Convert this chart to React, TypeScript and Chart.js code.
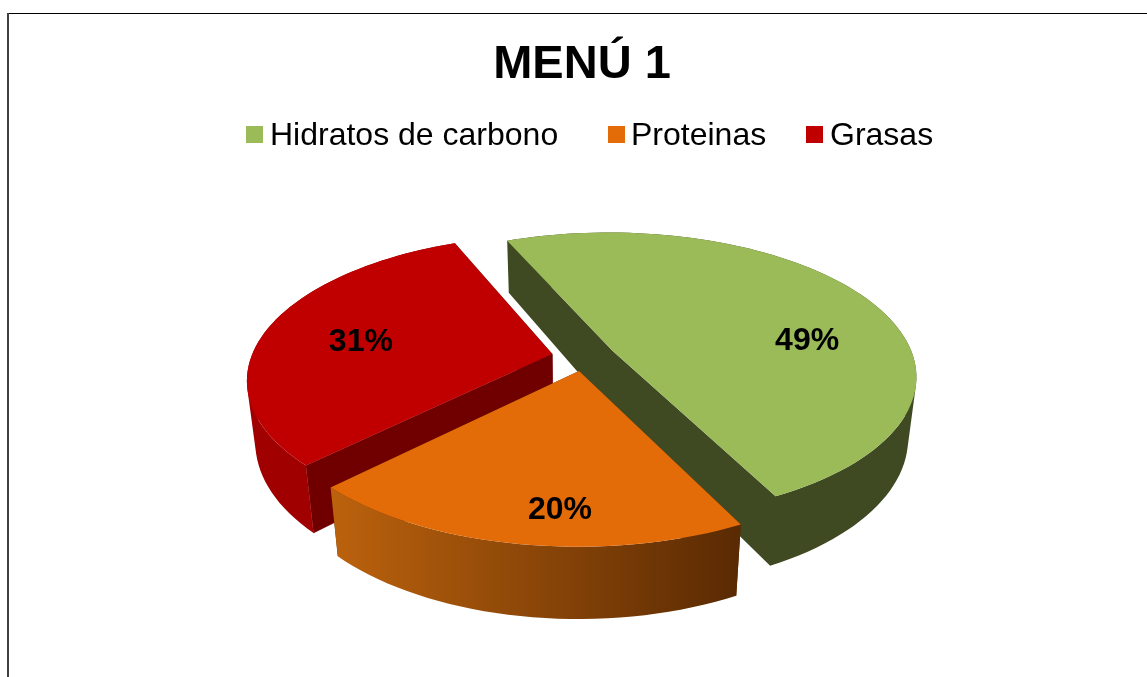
import React, { useEffect, useRef } from "react";
import { Chart, registerables } from "chart.js";

Chart.register(...registerables);

const categories = ["Hidratos de carbono", "Proteinas", "Grasas"];
const values = [49, 20, 31];
const topColors = ["#9BBB59", "#E36C09", "#C00000"];
const titleText = "MENÚ 1";

// perspective of the tilted pie plane (canvas pixels)
const X0 = 577, Y0 = 344, A = 301, B = 140.4, P = 0.17, Q = 0.025, C = 62, CV = 0.05;
const explode = [0.105, 0.1, 0.108];
const START_DEG = 336.9;
const labelRadius = [0.665, 0.825, 0.655];
const labelAlong = [0.605, 0.42, 0.47];
const drawOrder = [2, 0, 1];
const legendX = [239, 601, 799];
const legendTextGap = [24, 23, 24];

type Pt = [number, number];

const project = (u: number, v: number, z: number): Pt => {
  const d = 1 - P * v + Q * z;
  return [X0 + (A * u) / d, Y0 + (B * v + C * (1 + CV * v) * z) / d];
};

const pie3d = {
  id: "pie3d",
  beforeDraw(chart: any) {
    const { ctx, width, height } = chart;
    ctx.save();
    ctx.fillStyle = "#ffffff";
    ctx.fillRect(0, 0, width, height);
    ctx.fillStyle = "#000000";
    ctx.fillRect(0, 0, width, 1);
    ctx.fillStyle = "#404040";
    ctx.fillRect(0, 0, 2, height);
    ctx.restore();
  },
  beforeDatasetDraw(chart: any) {
    const { ctx } = chart;
    const arcs = chart.getDatasetMeta(0).data;
    ctx.save();
    for (const i of drawOrder) {
      const arc = arcs[i];
      const { startAngle: a0, endAngle: a1 } = arc;
      const mid = (a0 + a1) / 2;
      const cu = explode[i] * Math.cos(mid);
      const cv = explode[i] * Math.sin(mid);
      const steps = Math.ceil(((a1 - a0) * 180) / Math.PI / 2);
      const rim: Pt[] = [];
      for (let s = 0; s <= steps; s++) {
        const a = a0 + ((a1 - a0) * s) / steps;
        rim.push([cu + Math.cos(a), cv + Math.sin(a)]);
      }
      const apex: Pt = [cu, cv];
      // one path of equally wound quads, so that a wall is filled without seams
      const wall = (edges: [Pt, Pt][], style: any, bleed: boolean) => {
        ctx.beginPath();
        edges.forEach(([p, q]) => {
          const pts = [project(p[0], p[1], 0), project(q[0], q[1], 0), project(q[0], q[1], 1), project(p[0], p[1], 1)];
          let area = 0;
          pts.forEach((pt, k) => {
            const n = pts[(k + 1) % 4];
            area += pt[0] * n[1] - n[0] * pt[1];
          });
          if (area < 0) pts.reverse();
          pts.forEach((pt, k) => (k ? ctx.lineTo(pt[0], pt[1]) : ctx.moveTo(pt[0], pt[1])));
          ctx.closePath();
        });
        ctx.fillStyle = style;
        ctx.fill("nonzero");
        if (bleed) {
          ctx.strokeStyle = style;
          ctx.lineWidth = 0.5;
          ctx.stroke();
        }
      };
      let rimStyle: any = "#3F4A23";
      let innerStyle: any = "#3F4A23";
      if (i === 1) {
        const l = project(rim[steps][0], rim[steps][1], 0)[0];
        const r = project(rim[0][0], rim[0][1], 0)[0];
        const g = ctx.createLinearGradient(l, 0, r, 0);
        g.addColorStop(0, "#BC620D");
        g.addColorStop(1, "#592A03");
        rimStyle = g;
        innerStyle = "#592A03";
      } else if (i === 2) {
        rimStyle = "#A00000";
        innerStyle = "#700000";
      }
      const rimEdges: [Pt, Pt][] = [];
      for (let s = 0; s < steps; s++) rimEdges.push([rim[s], rim[s + 1]]);
      const innerEdges: [Pt, Pt][] = [[apex, rim[0]], [rim[steps], apex]];
      if (rimStyle === innerStyle) {
        wall([...innerEdges, ...rimEdges], rimStyle, false);
      } else {
        wall(innerEdges, innerStyle, i === 2);
        wall(rimEdges, rimStyle, false);
      }

      ctx.beginPath();
      const ap = project(apex[0], apex[1], 0);
      ctx.moveTo(ap[0], ap[1]);
      rim.forEach((r) => {
        const pt = project(r[0], r[1], 0);
        ctx.lineTo(pt[0], pt[1]);
      });
      ctx.closePath();
      ctx.fillStyle = arc.options.backgroundColor;
      ctx.fill();
    }
    ctx.fillStyle = "#000000";
    ctx.font = "bold 32px 'Liberation Sans'";
    ctx.textAlign = "center";
    ctx.textBaseline = "middle";
    arcs.forEach((arc: any, i: number) => {
      const { startAngle: a0, endAngle: a1 } = arc;
      const mid = (a0 + a1) / 2;
      const a = a0 + (a1 - a0) * labelAlong[i];
      const pt = project(
        explode[i] * Math.cos(mid) + labelRadius[i] * Math.cos(a),
        explode[i] * Math.sin(mid) + labelRadius[i] * Math.sin(a),
        0
      );
      ctx.fillText(values[i] + "%", pt[0], pt[1]);
    });
    ctx.restore();
    return false;
  },
  afterDraw(chart: any) {
    const { ctx } = chart;
    ctx.save();
    ctx.font = "32px 'Liberation Sans'";
    ctx.textBaseline = "middle";
    ctx.textAlign = "left";
    categories.forEach((name, i) => {
      ctx.fillStyle = topColors[i];
      ctx.fillRect(legendX[i], 113, 17, 17);
      ctx.fillStyle = "#000000";
      ctx.fillText(name, legendX[i] + legendTextGap[i], 123);
    });
    ctx.restore();
  },
};

export default function App() {
  const ref = useRef<HTMLCanvasElement>(null);
  useEffect(() => {
    const chart = new Chart(ref.current as HTMLCanvasElement, {
      type: "pie",
      data: {
        labels: categories,
        datasets: [{ data: values, backgroundColor: topColors, borderWidth: 0 }],
      },
      options: {
        animation: false,
        responsive: false,
        rotation: START_DEG,
        layout: { padding: { top: 0, bottom: 0, left: 0, right: 0 } },
        plugins: {
          legend: { display: false },
          tooltip: { enabled: false },
          title: {
            display: true,
            text: titleText,
            color: "#000000",
            font: { family: "'Liberation Sans'", size: 47, weight: "bold" },
            padding: { top: 24, bottom: 10 },
          },
        },
      },
      plugins: [pie3d],
    } as any);
    return () => chart.destroy();
  }, []);
  return (
    <div style={{ position: "fixed", left: 0, top: 0, width: 1147, height: 677, overflow: "hidden", background: "#fff" }}>
      <canvas ref={ref} width={1150} height={700} style={{ position: "absolute", left: 7, top: 13, width: 1150, height: 700 }} />
    </div>
  );
}
